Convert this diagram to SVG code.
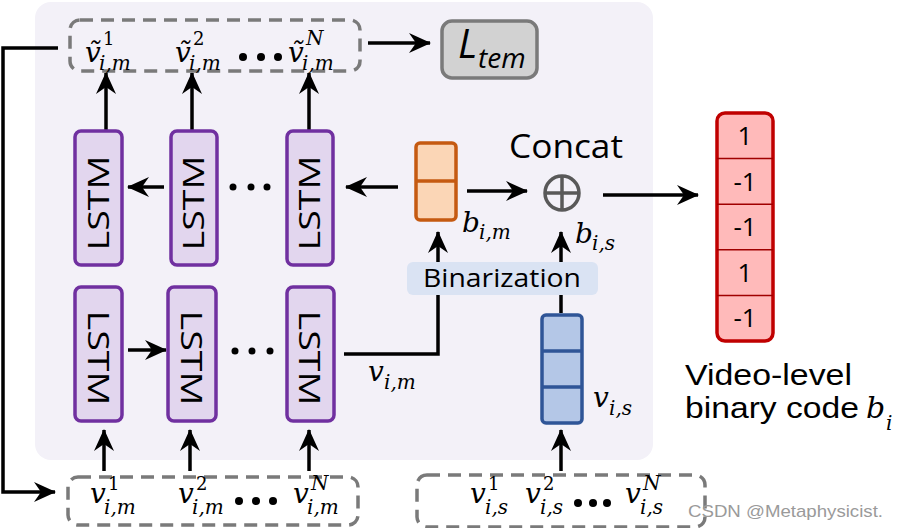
<svg xmlns="http://www.w3.org/2000/svg" width="900" height="528" viewBox="0 0 900 528">
<style>
.ui{font-family:"Open Sans","Liberation Sans",sans-serif;fill:#000}
.ls{font-family:"Liberation Sans","Open Sans",sans-serif;fill:#000}
.m{font-family:"DejaVu Serif","Liberation Serif",serif;font-style:italic;fill:#000}
.mv{font-size:28px}
.ms{font-size:20px}
.up{font-style:normal;font-size:18px}
.lstm{fill:#e2d6ee;stroke:#7030a0;stroke-width:3.5}
.lt{font-family:"Open Sans","Liberation Sans",sans-serif;font-size:29px;text-anchor:middle}
.dash{fill:none;stroke:#7a7a7a;stroke-width:3.5;stroke-dasharray:13 8}
.c{fill:none;stroke:#000;stroke-width:3.5}
.dot{fill:#000}
.red{fill:#ffbaba;stroke:#c00000}
.num{font-family:"Open Sans","Liberation Sans",sans-serif;font-size:26px;text-anchor:middle}
</style>
<defs>
<marker id="ah" markerUnits="userSpaceOnUse" markerWidth="24" markerHeight="22" refX="21" refY="10" orient="auto">
<path d="M0,0 L22,10 L0,20 L7,10 z" fill="#000"/>
</marker>
</defs>

<rect id="panel" x="35" y="2" width="618" height="458" rx="16" fill="#f3f1f8"/>

<g id="connectors">
<path class="c" d="M58,48 H3 V492 H55" marker-end="url(#ah)"/>
<path class="c" d="M368,43 H430" marker-end="url(#ah)"/>
<path class="c" d="M106,130 V73" marker-end="url(#ah)"/>
<path class="c" d="M192,130 V73" marker-end="url(#ah)"/>
<path class="c" d="M309,130 V73" marker-end="url(#ah)"/>
<path class="c" d="M164,187 H128" marker-end="url(#ah)"/>
<path class="c" d="M398,187 H346" marker-end="url(#ah)"/>
<path class="c" d="M128,350 H166" marker-end="url(#ah)"/>
<path class="c" d="M344,354 H438 V232" marker-end="url(#ah)"/>
<path class="c" d="M561,313 V232" marker-end="url(#ah)"/>
<path class="c" d="M467,191 H527" marker-end="url(#ah)"/>
<path class="c" d="M603,195 H698" marker-end="url(#ah)"/>
<path class="c" d="M104,471 V430" marker-end="url(#ah)"/>
<path class="c" d="M190,471 V430" marker-end="url(#ah)"/>
<path class="c" d="M309,471 V430" marker-end="url(#ah)"/>
<path class="c" d="M561,471 V430" marker-end="url(#ah)"/>
</g>

<g id="top-features">
<rect class="dash" x="70" y="20" width="290" height="51" rx="10"/>
<text class="m mv" x="85" y="62">ṽ</text>
<text class="m up" x="103" y="45">1</text>
<text class="m ms" x="99" y="70">i,m</text>
<text class="m mv" x="175" y="62">ṽ</text>
<text class="m up" x="193" y="45">2</text>
<text class="m ms" x="189" y="70">i,m</text>
<circle class="dot" cx="243" cy="57" r="4"/>
<circle class="dot" cx="261" cy="57" r="4"/>
<circle class="dot" cx="278" cy="57" r="4"/>
<text class="m mv" x="288" y="62">ṽ</text>
<text class="m ms" x="306" y="45">N</text>
<text class="m ms" x="302" y="70">i,m</text>
</g>

<g id="ltem">
<rect x="442" y="21" width="95" height="57" rx="10" fill="#d2d2d2" stroke="#7a7a7a" stroke-width="3.5"/>
<text x="458" y="58" font-family="'Open Sans','Liberation Sans',sans-serif" font-style="italic" font-size="40">L</text>
<text x="478" y="68" font-family="'Open Sans','Liberation Sans',sans-serif" font-style="italic" font-size="28">tem</text>
</g>

<g id="lstm-top-1"><rect class="lstm" x="75" y="131" width="47" height="134" rx="6"/><text class="lt" transform="translate(109,203) rotate(-90)" textLength="95" lengthAdjust="spacingAndGlyphs">LSTM</text></g>
<g id="lstm-top-2"><rect class="lstm" x="171" y="131" width="46" height="134" rx="6"/><text class="lt" transform="translate(204,203) rotate(-90)" textLength="95" lengthAdjust="spacingAndGlyphs">LSTM</text></g>
<g id="lstm-top-3"><rect class="lstm" x="287" y="131" width="46" height="134" rx="6"/><text class="lt" transform="translate(320,203) rotate(-90)" textLength="95" lengthAdjust="spacingAndGlyphs">LSTM</text></g>
<g id="top-dots"><circle class="dot" cx="233" cy="187" r="3.5"/><circle class="dot" cx="251" cy="187" r="3.5"/><circle class="dot" cx="267" cy="187" r="3.5"/></g>

<g id="lstm-bot-1"><rect class="lstm" x="75" y="287" width="47" height="134" rx="6"/><text class="lt" transform="translate(88,358) rotate(90)" textLength="95" lengthAdjust="spacingAndGlyphs">LSTM</text></g>
<g id="lstm-bot-2"><rect class="lstm" x="168" y="287" width="48" height="134" rx="6"/><text class="lt" transform="translate(181,358) rotate(90)" textLength="95" lengthAdjust="spacingAndGlyphs">LSTM</text></g>
<g id="lstm-bot-3"><rect class="lstm" x="287" y="287" width="47" height="134" rx="6"/><text class="lt" transform="translate(299,358) rotate(90)" textLength="95" lengthAdjust="spacingAndGlyphs">LSTM</text></g>
<g id="bot-dots"><circle class="dot" cx="235" cy="351" r="3.5"/><circle class="dot" cx="252" cy="351" r="3.5"/><circle class="dot" cx="270" cy="351" r="3.5"/></g>

<g id="vim-label">
<text class="m mv" x="368" y="381">v</text>
<text class="m ms" x="384" y="389">i,m</text>
</g>

<g id="bim">
<rect x="416" y="143" width="40" height="77" rx="4" fill="#fbd6b6" stroke="#c55a11" stroke-width="3.5"/>
<line x1="416" y1="181" x2="456" y2="181" stroke="#c55a11" stroke-width="3.5"/>
<text class="m mv" x="462" y="232">b</text>
<text class="m ms" x="479" y="239">i,m</text>
</g>

<g id="binarization">
<rect x="407" y="262" width="191" height="33" rx="6" fill="#dae3f3"/>
<text class="ui" x="502" y="287" font-size="25" text-anchor="middle" textLength="158" lengthAdjust="spacingAndGlyphs">Binarization</text>
</g>

<g id="concat">
<text class="ui" x="566" y="158" font-size="33" text-anchor="middle" textLength="114" lengthAdjust="spacingAndGlyphs">Concat</text>
<circle cx="562" cy="193" r="17" fill="none" stroke="#595959" stroke-width="3.5"/>
<line x1="545" y1="193" x2="579" y2="193" stroke="#595959" stroke-width="3.5"/>
<line x1="562" y1="176" x2="562" y2="210" stroke="#595959" stroke-width="3.5"/>
<text class="m mv" x="575" y="243">b</text>
<text class="m ms" x="592" y="250">i,s</text>
</g>

<g id="vis">
<rect x="542" y="315" width="40" height="108" rx="4" fill="#b4c7e7" stroke="#2f5597" stroke-width="3.5"/>
<line x1="542" y1="351" x2="582" y2="351" stroke="#2f5597" stroke-width="3.5"/>
<line x1="542" y1="387" x2="582" y2="387" stroke="#2f5597" stroke-width="3.5"/>
<text class="m mv" x="593" y="407">v</text>
<text class="m ms" x="609" y="415">i,s</text>
</g>

<g id="video-code">
<rect class="red" x="717" y="113" width="56" height="228" rx="8" stroke-width="3.5"/>
<g stroke="#a00000" stroke-width="1.5">
<line x1="717" y1="158.6" x2="773" y2="158.6"/>
<line x1="717" y1="204.2" x2="773" y2="204.2"/>
<line x1="717" y1="249.8" x2="773" y2="249.8"/>
<line x1="717" y1="295.4" x2="773" y2="295.4"/>
</g>
<text class="num" x="745" y="145">1</text>
<text class="num" x="745" y="191">-1</text>
<text class="num" x="745" y="236">-1</text>
<text class="num" x="745" y="282">1</text>
<text class="num" x="745" y="327">-1</text>
<text class="ls" x="685" y="385" font-size="29" textLength="167" lengthAdjust="spacingAndGlyphs">Video-level</text>
<text class="ls" x="685" y="418" font-size="29" textLength="174" lengthAdjust="spacingAndGlyphs">binary code</text>
<text class="m" x="866" y="418" font-size="30">b</text>
<text class="m" x="886" y="430" font-size="20">i</text>
</g>

<g id="bottom-m-features">
<rect class="dash" x="68" y="477" width="290" height="48" rx="10"/>
<text class="m mv" x="90" y="503">v</text>
<text class="m up" x="108" y="490">1</text>
<text class="m ms" x="104" y="514">i,m</text>
<text class="m mv" x="178" y="503">v</text>
<text class="m up" x="196" y="490">2</text>
<text class="m ms" x="192" y="514">i,m</text>
<circle class="dot" cx="239" cy="501" r="4"/>
<circle class="dot" cx="256" cy="501" r="4"/>
<circle class="dot" cx="273" cy="501" r="4"/>
<text class="m mv" x="293" y="503">v</text>
<text class="m ms" x="311" y="490">N</text>
<text class="m ms" x="307" y="514">i,m</text>
</g>

<g id="bottom-s-features">
<rect class="dash" x="417" y="475" width="288" height="52" rx="10"/>
<text class="m mv" x="470" y="503">v</text>
<text class="m up" x="488" y="490">1</text>
<text class="m ms" x="485" y="514">i,s</text>
<text class="m mv" x="525" y="503">v</text>
<text class="m up" x="543" y="490">2</text>
<text class="m ms" x="540" y="514">i,s</text>
<circle class="dot" cx="578" cy="503" r="4"/>
<circle class="dot" cx="593" cy="503" r="4"/>
<circle class="dot" cx="607" cy="503" r="4"/>
<text class="m mv" x="625" y="503">v</text>
<text class="m ms" x="643" y="490">N</text>
<text class="m ms" x="640" y="514">i,s</text>
</g>

<text id="watermark" x="688" y="517" font-family="'Liberation Sans',sans-serif" font-size="17" fill="#9a9a9a" textLength="195" lengthAdjust="spacingAndGlyphs">CSDN @Metaphysicist.</text>
</svg>
